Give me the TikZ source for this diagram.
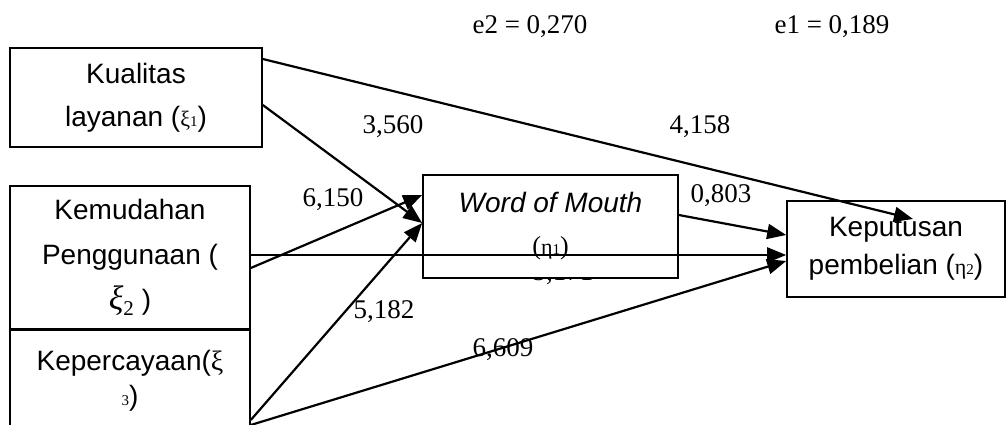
\documentclass[tikz,border=0pt]{standalone}
\usepackage{fontspec}
\setmainfont{Liberation Serif}
\newfontfamily\boxfont{Liberation Sans}
\usetikzlibrary{arrows.meta}
\tikzset{
  var/.style={draw, line width=1.6pt, fill=white, inner sep=0pt, align=center},
  effect/.style={line width=2.2pt, -{Triangle[length=19pt,width=15pt]}},
  coef/.style={font=\fontsize{27}{27}\selectfont, inner sep=0pt}
}
\newcommand{\gsym}[2]{{\rmfamily\fontsize{22}{22}\selectfont #1{\fontsize{15}{15}\selectfont #2}}}
\begin{document}
\begin{tikzpicture}[x=1pt,y=-1pt]
  \useasboundingbox (0,0) rectangle (1007,425);
  \clip (0,0) rectangle (1007,425);
  % coefficient hidden behind the box
  \node[coef] (c5171) at (563,274) {5,171};
  % variables
  \node[var, minimum width=252pt, minimum height=99pt,
        font=\boxfont\fontsize{28}{43}\selectfont] (kua) at (136,97.5)
        {Kualitas\\layanan (\gsym{ξ}{1})};
  \node[var, minimum width=240pt, minimum height=143pt,
        font=\boxfont\fontsize{28}{45}\selectfont] (kem) at (130,257.5)
        {Kemudahan\\Penggunaan (\\{\rmfamily\itshape\fontsize{34}{34}\selectfont ξ}\raisebox{-6pt}{\rmfamily\fontsize{21}{21}\selectfont 2} )};
  \node[var, minimum width=240pt, minimum height=140pt, anchor=north] (kep3) at (130,329) {};
  \node[inner sep=0pt, align=center, font=\boxfont\fontsize{28}{35}\selectfont] (kep3txt) at (130,381)
        {Kepercayaan({\rmfamily ξ}\\{\rmfamily\fontsize{15}{15}\selectfont 3})};
  \node[var, minimum width=255pt, minimum height=103pt,
        font=\boxfont\fontsize{28}{42}\selectfont] (wom) at (550.5,226.5)
        {\textit{Word of Mouth}\\{\rmfamily\fontsize{26}{26}\selectfont(}\gsym{η}{1}{\rmfamily\fontsize{26}{26}\selectfont)}};
  \node[var, minimum width=218pt, minimum height=96pt,
        font=\boxfont\fontsize{28}{38}\selectfont] (kep) at (896,249)
        {Keputusan\\pembelian (\gsym{η}{2})};
  % error terms and coefficients
  \node[coef] (e2) at (530,27) {e2 = 0,270};
  \node[coef] (e1) at (832,27) {e1 = 0,189};
  \node[coef] (c3560) at (393,127) {3,560};
  \node[coef] (c4158) at (700,127) {4,158};
  \node[coef] (c6150) at (333,200) {6,150};
  \node[coef] (c0803) at (721,196) {0,803};
  \node[coef] (c5182) at (384,312) {5,182};
  \node[coef] (c6609) at (503,350) {6,609};
  % paths
  \draw[effect] ([yshift=38.5pt]kua.east) -- ([xshift=17pt,yshift=30pt]kep.center);
  \draw[effect] ([yshift=-7.5pt]kua.east) -- ([yshift=3.5pt]wom.west);
  \draw[effect] ([yshift=-10.5pt]kem.east) -- ([yshift=31.5pt]wom.west);
  \draw[effect] ([yshift=2.5pt]kem.east) -- ([yshift=-6pt]kep.west);
  \draw[effect] ([yshift=11.5pt]wom.east) -- ([yshift=14pt]kep.west);
  \draw[effect] ([yshift=-91pt]kep3.north east) -- ([yshift=3.5pt]wom.west);
  \draw[effect] ([yshift=-96pt]kep3.north east) -- ([yshift=-12pt]kep.west);
\end{tikzpicture}
\end{document}
